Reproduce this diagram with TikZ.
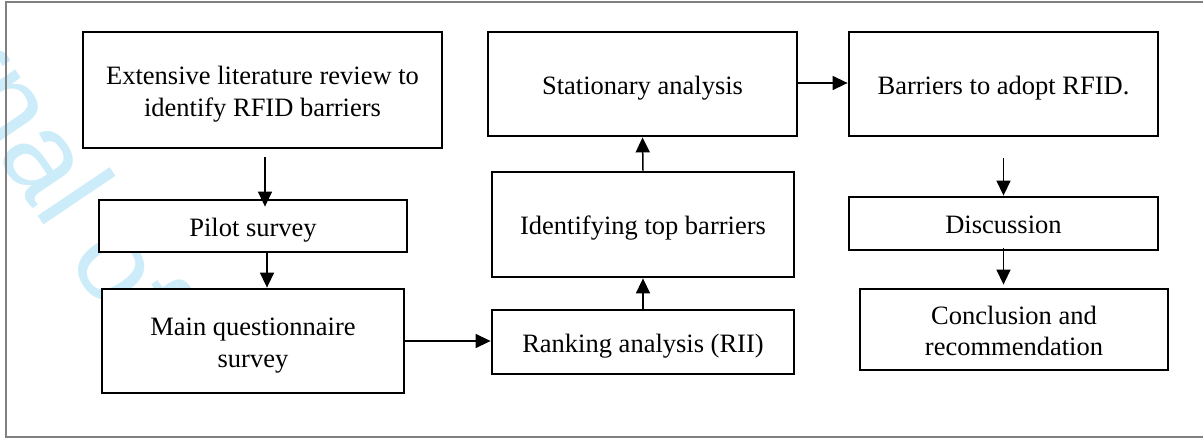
\documentclass[tikz,border=0pt]{standalone}
\usepackage{fontspec}
\setmainfont{Liberation Serif}
\newfontfamily\wmfont{Liberation Sans}
\usetikzlibrary{arrows.meta}
\definecolor{wm}{RGB}{205,236,250}
\definecolor{framegray}{RGB}{128,128,128}
\newcommand{\boxtext}[1]{\raisebox{-4pt}[\height][\depth]{\begin{tabular}{@{}c@{}}#1\end{tabular}}}
\begin{document}
\begin{tikzpicture}[x=1pt,y=-1pt,
  box/.style={draw=black, line width=2.8pt, fill=white, inner sep=0pt,
    font=\fontsize{26.5}{31.5}\selectfont},
  arr/.style={line width=1.5pt, -{Triangle[length=15pt,width=14pt]}},
  frameline/.style={draw=framegray, line width=1.5pt}]
\useasboundingbox (0,0) rectangle (1203,439);
% watermark
\begin{scope}
\clip (0,0) rectangle (1203,439);
\node[anchor=base west, rotate=-56, text=wm, inner sep=0pt,
  font=\wmfont\fontsize{120}{120}\selectfont] (wmark) at (-172,-95) {Journal of};
\end{scope}
% frame
\draw[frameline] (1203,2) -- (6,2) -- (6,437) -- (1203,437);
% boxes
\node[box, minimum width=359pt, minimum height=116pt] (lit) at (262.5,90)
  {\boxtext{Extensive literature review to\\identify RFID barriers}};
\node[box, minimum width=308pt, minimum height=52pt] (pilot) at (253,226) {\boxtext{Pilot survey}};
\node[box, minimum width=302pt, minimum height=104pt] (main) at (253,341)
  {\boxtext{Main questionnaire\\survey}};
\node[box, minimum width=309pt, minimum height=104pt] (stat) at (642.5,84) {\boxtext{Stationary analysis}};
\node[box, minimum width=302pt, minimum height=105pt] (ident) at (643,224.5) {\boxtext{Identifying top barriers}};
\node[box, minimum width=302pt, minimum height=64pt] (rank) at (643,342) {\boxtext{Ranking analysis (RII)}};
\node[box, minimum width=309pt, minimum height=104pt] (barr) at (1003.5,84) {\boxtext{Barriers to adopt RFID.}};
\node[box, minimum width=309pt, minimum height=53pt] (disc) at (1003.5,223.5) {\boxtext{Discussion}};
\node[box, minimum width=308pt, minimum height=81pt] (concl) at (1014,329.5)
  {\boxtext{Conclusion and\\recommendation}};
% connectors
\draw[arr] ([xshift=2.5pt,yshift=-8pt]lit.south) -- ([xshift=2.5pt,yshift=-8pt]lit.south |- pilot.north);
\draw[arr] ([xshift=14pt]pilot.south) -- ([xshift=14pt]pilot.south |- main.north);
\draw[arr] (main.east) -- (main.east -| rank.west);
\draw[arr] (rank.north) -- (ident.south);
\draw[arr] (ident.north) -- (stat.south);
\draw[arr] ([yshift=1pt]stat.east) -- ([yshift=1pt]barr.west);
\draw[arr] ([yshift=-21pt]barr.south) -- (disc.north);
\draw[arr] ([yshift=3pt]disc.south) -- ([yshift=3pt]disc.south |- concl.north);
\end{tikzpicture}
\end{document}
